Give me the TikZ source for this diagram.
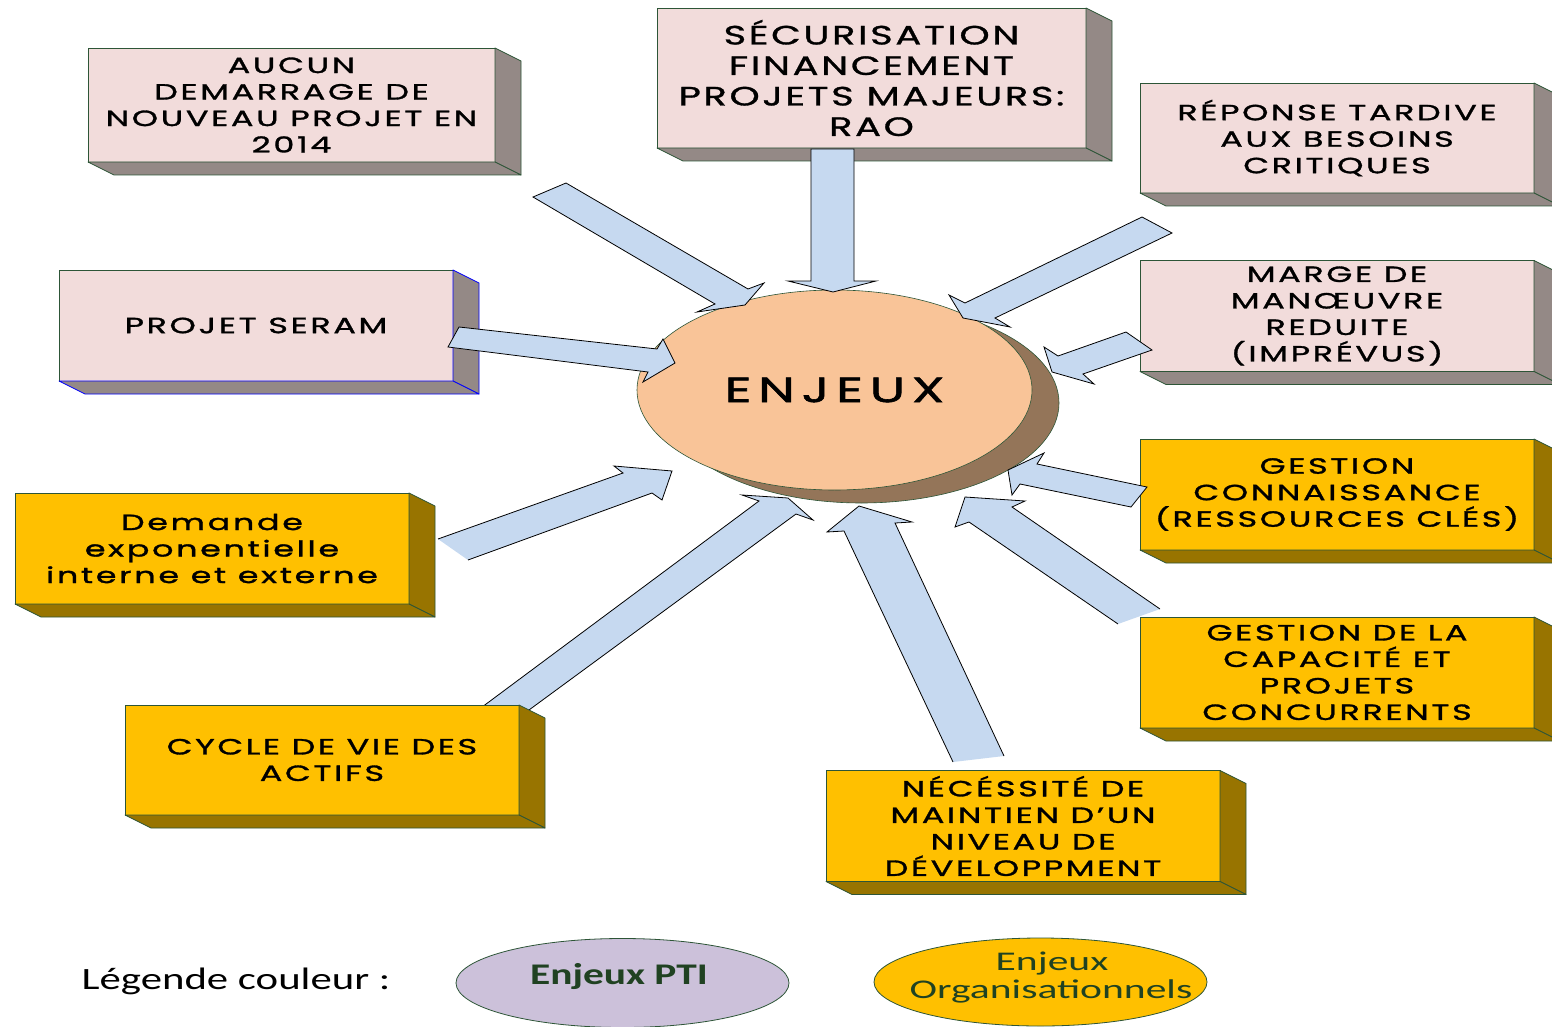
\documentclass[tikz,border=0pt]{standalone}
\usepackage{fontspec}
\usetikzlibrary{shapes.geometric,calc}
\newfontfamily\boxfnt[FakeStretch=1.52,LetterSpace=12,FakeBold=1.4]{Poppins}
\newfontfamily\bigfnt[FakeStretch=1.45,LetterSpace=10,FakeBold=1.1]{Poppins}
\newfontfamily\enjfnt[FakeStretch=1.5,LetterSpace=19,FakeBold=1.6]{Poppins}
\newfontfamily\legfnt[FakeStretch=1.38]{Carlito}
\newfontfamily\legorgfnt[FakeStretch=1.54]{Carlito}
\definecolor{pinkface}{RGB}{242,220,219}
\definecolor{pinkside}{RGB}{148,137,134}
\definecolor{yelface}{RGB}{255,192,0}
\definecolor{yelside}{RGB}{152,116,0}
\definecolor{edgegreen}{RGB}{45,85,55}
\definecolor{ellfill}{RGB}{249,196,152}
\definecolor{ellshadow}{RGB}{148,117,89}
\definecolor{arrowblue}{RGB}{198,217,240}
\definecolor{lavender}{RGB}{204,193,218}
\definecolor{legtext}{RGB}{32,66,34}
\tikzset{
  face/.style={rectangle, draw=edgegreen, line width=0.8pt, inner sep=0pt, outer sep=0pt,
    align=center, text=black, font=\boxfnt\fontsize{22}{26.5}\selectfont},
  pinkbox/.style={face, fill=pinkface},
  yelbox/.style={face, fill=yelface},
  arrfill/.style={fill=arrowblue},
  arrline/.style={draw=black, line width=0.8pt, line join=miter},
  legell/.style={ellipse, draw=edgegreen, line width=0.8pt, inner sep=0pt, outer sep=0pt},
}
\newcommand\boxdepth[3]{%
  \filldraw[fill=#2, draw=#3, line width=0.8pt, line join=round]
    (#1.north east) -- ++(26,13) -- ($(#1.south east)+(26,13)$) -- (#1.south east) -- cycle;
  \filldraw[fill=#2, draw=#3, line width=0.8pt, line join=round]
    (#1.south west) -- ++(26,13) -- ($(#1.south east)+(26,13)$) -- (#1.south east) -- cycle;}
\begin{document}
\begin{tikzpicture}[x=1pt,y=-1pt]
\useasboundingbox (0,0) rectangle (1552,1027);
\clip (0,0) rectangle (1552,1027);
\fill[white] (0,0) rectangle (1552,1027);

% central ellipse with shadow
\fill[ellshadow, draw=edgegreen, line width=0.6pt] (861.5,403) ellipse [x radius=197.5, y radius=100];
\node[ellipse, fill=ellfill, draw=edgegreen, line width=0.6pt, minimum width=395, minimum height=200,
  inner sep=0pt, font=\enjfnt\fontsize{35}{40}\selectfont] (enjeux) at (834.5,390) {ENJEUX};

% arrow behind box 9 (cycle de vie)
\coordinate (a8t1) at (514,721); \coordinate (a8t2) at (470,716);
\fill[arrfill] (a8t1) -- (796,514) -- (813,520) -- (788,498) -- (742,495) -- (759,501) -- (a8t2) -- cycle;
\draw[arrline] (a8t1) -- (796,514) -- (813,520) -- (788,498) -- (742,495) -- (759,501) -- (a8t2);

% boxes
\node[pinkbox, minimum width=407, minimum height=114] (b1) at (291.5,105)
  {AUCUN\\DEMARRAGE DE\\NOUVEAU PROJET EN\\2014};
\boxdepth{b1}{pinkside}{edgegreen}
\node[pinkbox, minimum width=429, minimum height=140, font=\bigfnt\fontsize{26.5}{30.5}\selectfont] (b2) at (871.5,78)
  {SÉCURISATION\\FINANCEMENT\\PROJETS MAJEURS:\\RAO};
\boxdepth{b2}{pinkside}{edgegreen}
\node[pinkbox, minimum width=394, minimum height=110] (b3) at (1337,138)
  {RÉPONSE TARDIVE\\AUX BESOINS\\CRITIQUES};
\boxdepth{b3}{pinkside}{edgegreen}
\node[pinkbox, minimum width=394, minimum height=111] (b4) at (1337,316)
  {MARGE DE\\MANŒUVRE\\REDUITE\\(IMPRÉVUS)};
\boxdepth{b4}{pinkside}{edgegreen}
\node[pinkbox, minimum width=394, minimum height=111] (b5) at (256,325.5)
  {PROJET SERAM};
\boxdepth{b5}{pinkside}{blue}
\node[yelbox, minimum width=394, minimum height=111] (b6) at (212,548.5)
  {Demande\\exponentielle\\interne et externe};
\boxdepth{b6}{yelside}{edgegreen}
\node[yelbox, minimum width=394, minimum height=111] (b7) at (1337,494.5)
  {GESTION\\CONNAISSANCE\\(RESSOURCES CLÉS)};
\boxdepth{b7}{yelside}{edgegreen}
\node[yelbox, minimum width=394, minimum height=111] (b8) at (1337,672.5)
  {GESTION DE LA\\CAPACITÉ ET\\PROJETS\\CONCURRENTS};
\boxdepth{b8}{yelside}{edgegreen}
\node[yelbox, minimum width=394, minimum height=110] (b9) at (322,760)
  {CYCLE DE VIE DES\\ACTIFS};
\boxdepth{b9}{yelside}{edgegreen}
\node[yelbox, minimum width=394, minimum height=111] (b10) at (1023,826)
  {NÉCÉSSITÉ DE\\MAINTIEN D’UN\\NIVEAU DE\\DÉVELOPPMENT};
\boxdepth{b10}{yelside}{edgegreen}

% arrows (tail stroked)
\filldraw[arrfill, arrline] (566,183) -- (748,289) -- (764,283) -- (745,305) -- (697,312) -- (715,304) -- (533,197) -- cycle;
\filldraw[arrfill, arrline] (854,149) -- (854,281) -- (876,281) -- (833,292) -- (788,281) -- (811,281) -- (811,149) -- cycle;
\filldraw[arrfill, arrline] (1142,217) -- (965,303) -- (949,295) -- (963,318) -- (1010,327) -- (995,318) -- (1172,233) -- cycle;
\filldraw[arrfill, arrline] (1126,332) -- (1058,356) -- (1044,347) -- (1052,372) -- (1094,384) -- (1083,374) -- (1152,350) -- cycle;
\filldraw[arrfill, arrline] (1147,487) -- (1037,464) -- (1044,453) -- (1008,470) -- (1012,495) -- (1020,484) -- (1131,507) -- cycle;
\filldraw[arrfill, arrline] (459,327) -- (657,349) -- (663,339) -- (675,363) -- (643,382) -- (648,372) -- (448,347) -- cycle;
% arrows (tail not stroked)
\fill[arrfill] (1160,609) -- (1012,507) -- (1025,501) -- (965,497) -- (955,527) -- (969,522) -- (1118,624) -- cycle;
\draw[arrline] (1160,609) -- (1012,507) -- (1025,501) -- (965,497) -- (955,527) -- (969,522) -- (1118,624);
\fill[arrfill] (1004,756) -- (895,523) -- (912,522) -- (859,506) -- (827,532) -- (844,531) -- (953,762) -- cycle;
\draw[arrline] (1004,756) -- (895,523) -- (912,522) -- (859,506) -- (827,532) -- (844,531) -- (953,762);
\fill[arrfill] (438,539) -- (623,473) -- (614,466) -- (672,471) -- (662,500) -- (652,493) -- (468,560) -- cycle;
\draw[arrline] (438,539) -- (623,473) -- (614,466) -- (672,471) -- (662,500) -- (652,493) -- (468,560);

% legend
\node[font=\legfnt\fontsize{31}{36}\selectfont, anchor=center] (legtitle) at (236,981) {Légende couleur :};
\node[legell, fill=lavender, minimum width=333, minimum height=89] (legpti) at (622.5,983) {};
\node[font=\legfnt\bfseries\fontsize{30}{36}\selectfont, text=legtext] (legptitxt) at (619,976) {Enjeux PTI};
\node[legell, fill=yelface, minimum width=333, minimum height=88] (legorg) at (1040.5,982) {};
\node[font=\legorgfnt\fontsize{27}{30}\selectfont, text=legtext, inner sep=0pt] (legorgtxt1) at (1052,964) {Enjeux};
\node[font=\legorgfnt\fontsize{27}{30}\selectfont, text=legtext, inner sep=0pt] (legorgtxt2) at (1051,991) {Organisationnels};
\end{tikzpicture}
\end{document}
